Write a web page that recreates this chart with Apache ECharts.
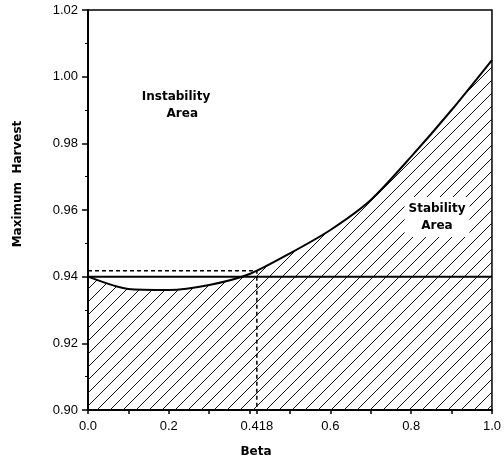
<!DOCTYPE html>
<html>
<head>
<meta charset="utf-8">
<script src="https://cdn.jsdelivr.net/npm/echarts@6/dist/echarts.min.js"></script>
<style>
  html, body { margin: 0; padding: 0; background: #fff; }
  #chart { width: 504px; height: 464px; }
</style>
</head>
<body>
<div id="chart"></div>
<script>
// data
var betaValues = [0, 0.1, 0.2, 0.3, 0.4, 0.5, 0.6, 0.7, 0.8, 0.9, 1.0];
var maxHarvest = [0.940, 0.9363, 0.936, 0.9375, 0.9408, 0.947, 0.954, 0.963, 0.976, 0.990, 1.005];
var thresholdHarvest = 0.94;
var criticalBeta = 0.418;
var criticalHarvest = 0.9418;
var xLabelValues = [0, 0.2, 0.418, 0.6, 0.8, 1.0];
var xTickValues = [0, 0.1, 0.2, 0.3, 0.4, 0.418, 0.5, 0.6, 0.7, 0.8, 0.9, 1.0];

(function () {
    // diagonal hatch pattern
    var tile = document.createElement('canvas');
    var s = 13;
    tile.width = s;
    tile.height = s;
    var ctx = tile.getContext('2d');
    ctx.strokeStyle = '#111';
    ctx.lineWidth = 1;
    [-s, 0, s].forEach(function (k) {
        ctx.beginPath();
        ctx.moveTo(k - 1, s + 1);
        ctx.lineTo(k + s + 1, -1);
        ctx.stroke();
    });

    var curve = betaValues.map(function (b, i) { return [b, maxHarvest[i]]; });

    var chart = echarts.init(document.getElementById('chart'));
    var font = 'Liberation Sans, Arial, sans-serif';
    var boldFont = 'DejaVu Sans, sans-serif';

    chart.setOption({
        animation: false,
        backgroundColor: '#fff',
        grid: {
            left: 88, right: 12, top: 10, bottom: 54,
            show: true, borderColor: '#000', borderWidth: 1.5
        },
        xAxis: {
            type: 'value', min: 0, max: 1,
            splitLine: { show: false },
            axisLine: { lineStyle: { color: '#000', width: 2 } },
            axisTick: { customValues: xTickValues, length: 4, lineStyle: { color: '#000', width: 1.5 } },
            axisLabel: {
                customValues: xLabelValues,
                margin: 10,
                color: '#000', fontSize: 13, fontFamily: font,
                formatter: function (v) {
                    return Math.abs(v - criticalBeta) < 1e-6 ? '0.418' : v.toFixed(1);
                }
            }
        },
        yAxis: {
            type: 'value', min: 0.90, max: 1.02, interval: 0.02,
            splitLine: { show: false },
            axisLine: { lineStyle: { color: '#000', width: 2 } },
            axisTick: { length: 6, lineStyle: { color: '#000', width: 1.5 } },
            minorTick: { show: true, splitNumber: 2, length: 3, lineStyle: { color: '#000' } },
            axisLabel: {
                margin: 10, color: '#000', fontSize: 13, fontFamily: font,
                formatter: function (v) { return v.toFixed(2); }
            }
        },
        graphic: [
            {
                type: 'text', x: 18, y: 184, rotation: Math.PI / 2, z: 100,
                style: {
                    text: 'Maximum  Harvest', font: 'bold 12px ' + boldFont,
                    fill: '#000', align: 'center', verticalAlign: 'middle'
                }
            },
            {
                type: 'text', x: 256, y: 452, z: 100,
                style: {
                    text: 'Beta', font: 'bold 12px ' + boldFont,
                    fill: '#000', align: 'center', verticalAlign: 'middle'
                }
            },
            {
                type: 'text', x: 176, y: 105, z: 100,
                style: {
                    text: 'Instability\n   Area', font: 'bold 12px ' + boldFont,
                    fill: '#000', align: 'center', verticalAlign: 'middle', lineHeight: 17
                }
            },
            {
                type: 'text', x: 437, y: 217, z: 100,
                style: {
                    text: 'Stability\nArea', font: 'bold 12px ' + boldFont,
                    fill: '#000', align: 'center', verticalAlign: 'middle', lineHeight: 17,
                    backgroundColor: '#fff', padding: [3, 4]
                }
            }
        ],
        series: [
            {
                type: 'line', data: curve, symbol: 'none', z: 3,
                smooth: 0.25,
                lineStyle: { color: '#000', width: 2 },
                areaStyle: { color: { image: tile, repeat: 'repeat' }, opacity: 1, origin: 'start' }
            },
            {
                type: 'line', data: [[0, thresholdHarvest], [1, thresholdHarvest]], symbol: 'none', z: 4,
                lineStyle: { color: '#000', width: 2 }
            },
            {
                type: 'line', data: [[0, criticalHarvest], [criticalBeta, criticalHarvest], [criticalBeta, 0.90]],
                symbol: 'none', z: 4,
                lineStyle: { color: '#000', width: 1.5, type: [4, 3] }
            }
        ]
    });

    window.addEventListener('resize', function () { chart.resize(); });
})();
</script>
</body>
</html>
